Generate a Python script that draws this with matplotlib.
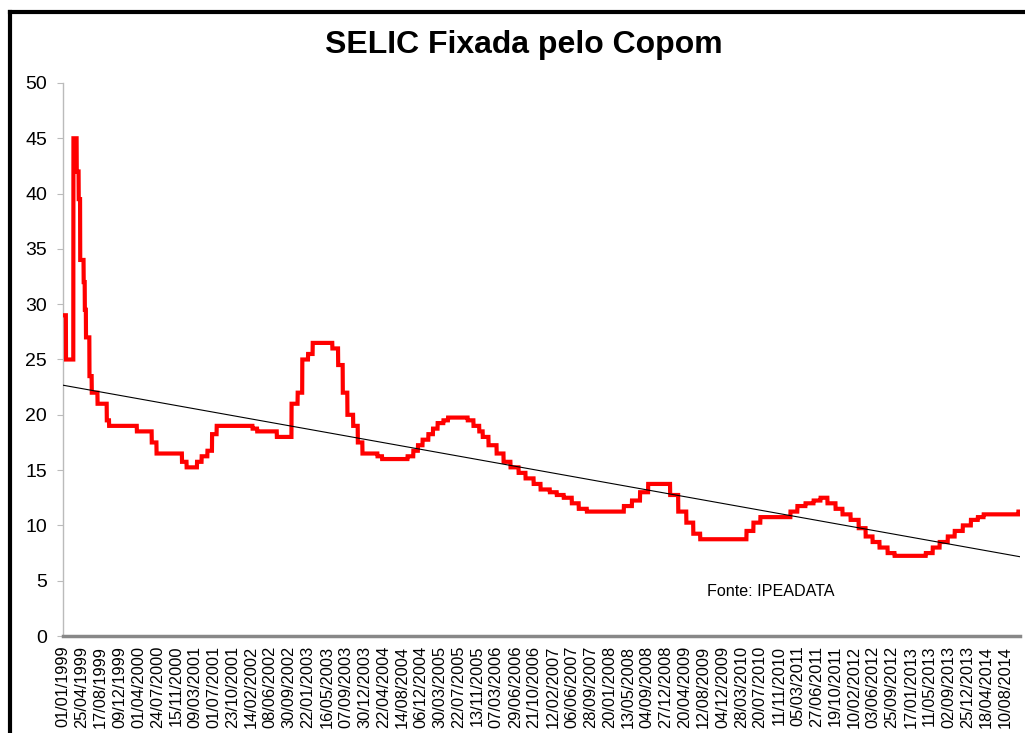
import numpy as np
import pandas as pd
import matplotlib
matplotlib.use("Agg")
import matplotlib.pyplot as plt
from matplotlib.lines import Line2D

plt.rcParams["font.family"] = ["Liberation Sans", "DejaVu Sans"]

# Meta SELIC (% a.a.) -- datas de mudanca e taxa vigente a partir delas
change_dates = [
    "1999-01-01", "1999-01-19", "1999-03-05", "1999-03-25", "1999-04-06",
    "1999-04-15", "1999-05-06", "1999-05-13", "1999-05-20", "1999-06-10",
    "1999-06-24", "1999-07-29", "1999-09-23", "1999-10-07",
    "2000-03-23", "2000-06-21", "2000-07-20", "2000-12-21",
    "2001-01-18", "2001-03-22", "2001-04-19", "2001-05-24", "2001-06-21",
    "2001-07-19",
    "2002-02-21", "2002-03-21", "2002-07-18", "2002-10-15", "2002-11-21",
    "2002-12-19",
    "2003-01-23", "2003-02-20", "2003-06-19", "2003-07-24", "2003-08-21",
    "2003-09-18", "2003-10-23", "2003-11-20", "2003-12-18",
    "2004-03-18", "2004-04-15", "2004-09-16", "2004-10-21", "2004-11-18",
    "2004-12-16",
    "2005-01-20", "2005-02-17", "2005-03-17", "2005-04-21", "2005-05-19",
    "2005-09-15", "2005-10-20", "2005-11-24", "2005-12-15",
    "2006-01-19", "2006-03-09", "2006-04-20", "2006-06-01", "2006-07-20",
    "2006-08-31", "2006-10-19", "2006-11-30",
    "2007-01-25", "2007-03-08", "2007-04-19", "2007-06-07", "2007-07-19",
    "2007-09-06",
    "2008-04-17", "2008-06-05", "2008-07-24", "2008-09-11",
    "2009-01-22", "2009-03-12", "2009-04-30", "2009-06-11", "2009-07-23",
    "2010-04-29", "2010-06-10", "2010-07-22",
    "2011-01-20", "2011-03-03", "2011-04-21", "2011-06-09", "2011-07-21",
    "2011-09-01", "2011-10-20", "2011-12-01",
    "2012-01-19", "2012-03-08", "2012-04-19", "2012-05-31", "2012-07-12",
    "2012-08-30", "2012-10-11",
    "2013-04-18", "2013-05-30", "2013-07-11", "2013-08-29", "2013-10-10",
    "2013-11-28",
    "2014-01-16", "2014-02-27", "2014-04-03", "2014-10-30",
]
change_rates = [
    29.00, 25.00, 45.00, 42.00, 39.50,
    34.00, 32.00, 29.50, 27.00, 23.50,
    22.00, 21.00, 19.50, 19.00,
    18.50, 17.50, 16.50, 15.75,
    15.25, 15.75, 16.25, 16.75, 18.25,
    19.00,
    18.75, 18.50, 18.00, 21.00, 22.00,
    25.00,
    25.50, 26.50, 26.00, 24.50, 22.00,
    20.00, 19.00, 17.50, 16.50,
    16.25, 16.00, 16.25, 16.75, 17.25,
    17.75,
    18.25, 18.75, 19.25, 19.50, 19.75,
    19.50, 19.00, 18.50, 18.00,
    17.25, 16.50, 15.75, 15.25, 14.75,
    14.25, 13.75, 13.25,
    13.00, 12.75, 12.50, 12.00, 11.50,
    11.25,
    11.75, 12.25, 13.00, 13.75,
    12.75, 11.25, 10.25, 9.25, 8.75,
    9.50, 10.25, 10.75,
    11.25, 11.75, 12.00, 12.25, 12.50,
    12.00, 11.50, 11.00,
    10.50, 9.75, 9.00, 8.50, 8.00,
    7.50, 7.25,
    7.50, 8.00, 8.50, 9.00, 9.50,
    10.00,
    10.50, 10.75, 11.00, 11.25,
]
start_date = "1999-01-01"
end_date = "2014-11-08"

# rotulos do eixo x (a cada 114 dias, como no grafico original)
tick_labels = [
    "01/01/1999", "25/04/1999", "17/08/1999", "09/12/1999", "01/04/2000",
    "24/07/2000", "15/11/2000", "09/03/2001", "01/07/2001", "23/10/2001",
    "14/02/2002", "08/06/2002", "30/09/2002", "22/01/2003", "16/05/2003",
    "07/09/2003", "30/12/2003", "22/04/2004", "14/08/2004", "06/12/2004",
    "30/03/2005", "22/07/2005", "13/11/2005", "07/03/2006", "29/06/2006",
    "21/10/2006", "12/02/2007", "06/06/2007", "28/09/2007", "20/01/2008",
    "13/05/2008", "04/09/2008", "27/12/2008", "20/04/2009", "12/08/2009",
    "04/12/2009", "28/03/2010", "20/07/2010", "11/11/2010", "05/03/2011",
    "27/06/2011", "19/10/2011", "10/02/2012", "03/06/2012", "25/09/2012",
    "17/01/2013", "11/05/2013", "02/09/2013", "25/12/2013", "18/04/2014",
    "10/08/2014",
]

# serie diaria
days = pd.date_range(start_date, end_date, freq="D")
selic = pd.Series(change_rates, index=pd.to_datetime(change_dates))
selic = selic.reindex(days, method="ffill")

# tendencia linear (como a linha de tendencia do Excel)
idx = np.arange(len(selic))
slope, intercept = np.polyfit(idx, selic.values, 1)
trend = slope * idx + intercept

fig = plt.figure(figsize=(10.25, 7.33), dpi=100)
ax = fig.add_axes([0.0615, 0.1323, 0.9335, 0.7545])

ax.plot(days, selic.values, color="#ff0000", linewidth=3.0,
        solid_joinstyle="miter", zorder=3)
ax.plot(days, trend, color="black", linewidth=0.8, zorder=4)

ax.set_xlim(days[0], days[-1])
ax.set_ylim(0, 50)
ax.set_yticks(range(0, 51, 5))
ax.tick_params(axis="y", labelsize=14, length=4.5, color="#bbbbbb",
               pad=7, direction="out")

tick_pos = pd.to_datetime(tick_labels, format="%d/%m/%Y")
ax.set_xticks(tick_pos)
ax.set_xticklabels(tick_labels, rotation=90, fontsize=11.8)
ax.tick_params(axis="x", length=0, pad=7)

for side in ["top", "right"]:
    ax.spines[side].set_visible(False)
ax.spines["left"].set_color("#bbbbbb")
ax.spines["left"].set_linewidth(1.0)
ax.spines["bottom"].set_color("#888888")
ax.spines["bottom"].set_linewidth(2.5)

fig.text(0.511, 0.938, "SELIC Fixada pelo Copom", ha="center", va="center",
         fontsize=23, fontweight="bold")
ax.text(0.673, 0.08, "Fonte: IPEADATA", transform=ax.transAxes,
        fontsize=11.6, ha="left", va="center")

# moldura preta do grafico (recortada no print)
fig.add_artist(Line2D([10 / 1025, 10 / 1025], [0, 1 - 12 / 733],
                      color="black", linewidth=3, solid_capstyle="projecting"))
fig.add_artist(Line2D([10 / 1025, 1], [1 - 12 / 733, 1 - 12 / 733],
                      color="black", linewidth=3, solid_capstyle="projecting"))

fig.savefig("out.png", dpi=100)
